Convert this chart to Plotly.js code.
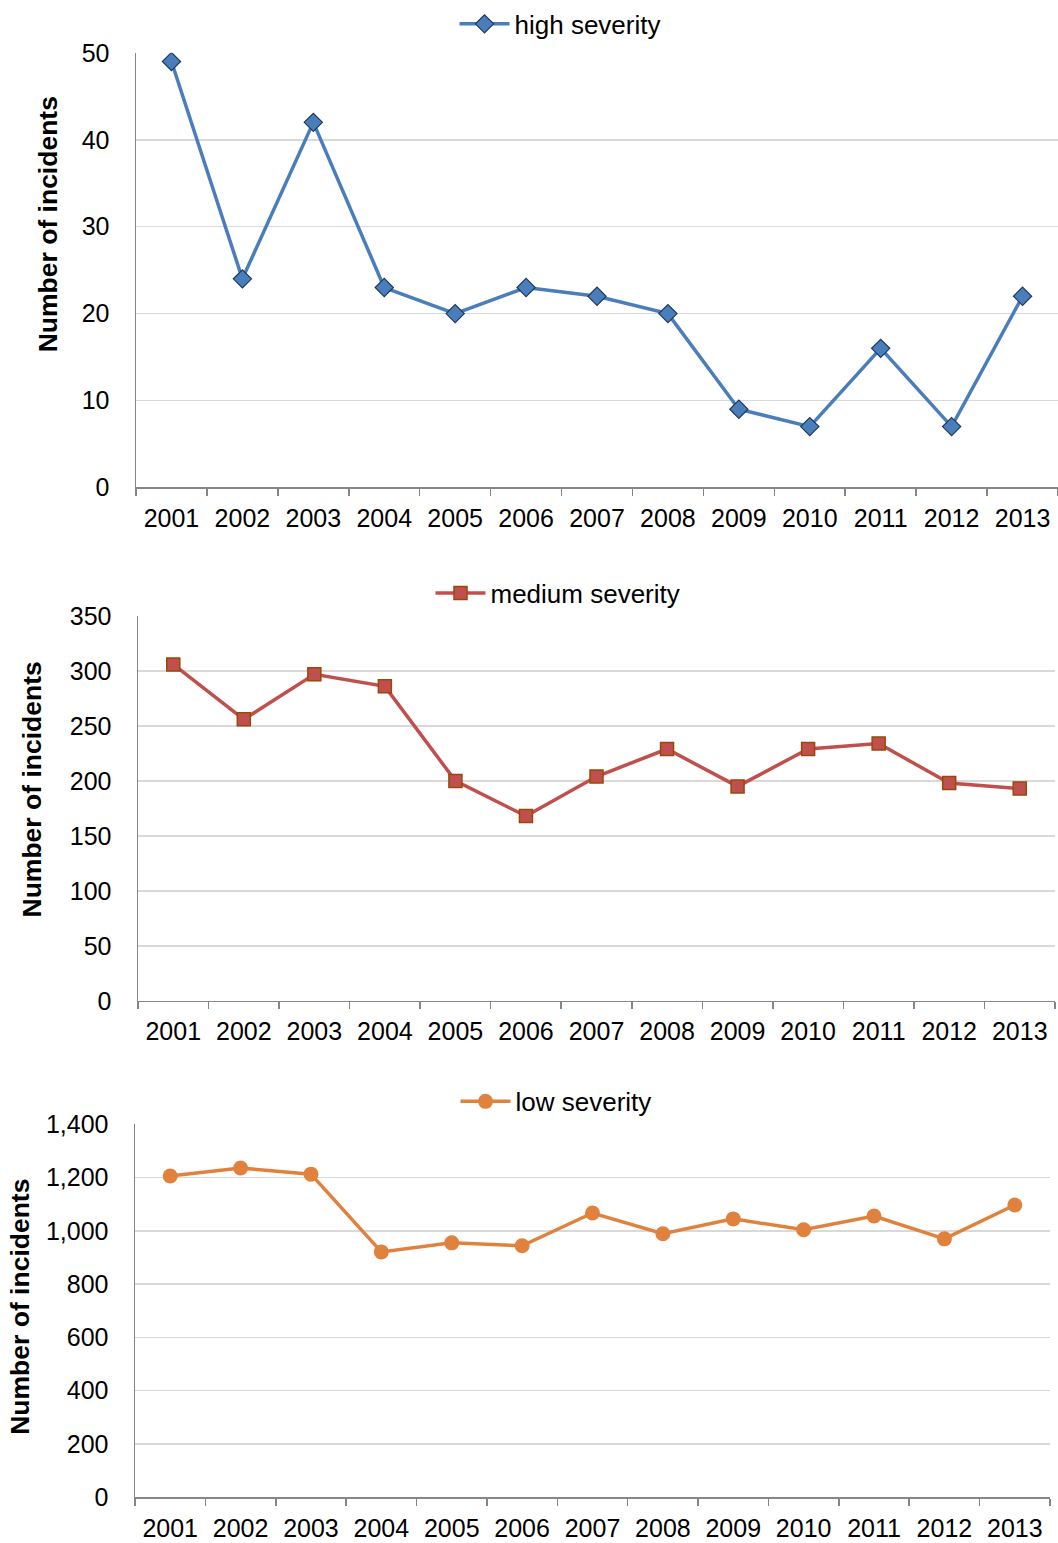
<!DOCTYPE html>
<html>
<head>
<meta charset="utf-8">
<script src="https://cdn.plot.ly/plotly-3.0.1.min.js"></script>
<style>html,body{margin:0;padding:0;background:#fff;}#chart{width:1058px;height:1543px;}</style>
</head>
<body>
<div id="chart"></div>
<script>
const years = ["2001","2002","2003","2004","2005","2006","2007","2008","2009","2010","2011","2012","2013"];
const highSeverity = [49, 24, 42, 23, 20, 23, 22, 20, 9, 7, 16, 7, 22];
const mediumSeverity = [306, 256, 297, 286, 200, 168, 204, 229, 195, 229, 234, 198, 193];
const lowSeverity = [1206, 1236, 1213, 921, 955, 944, 1067, 989, 1045, 1004, 1056, 970, 1097];
const seriesNames = ["high severity", "medium severity", "low severity"];
const yTitle = "Number of incidents";

const FONT = "Liberation Sans, Arial, sans-serif";
const W = 1058, H = 1543;
const px = v => v / W;
const py = v => 1 - v / H;

const traces = [
  {x: years, y: highSeverity, name: seriesNames[0], type: 'scatter', mode: 'lines+markers',
   xaxis: 'x', yaxis: 'y', legend: 'legend',
   line: {color: '#4a7ebb', width: 3.5},
   marker: {symbol: 'diamond', size: 14, color: '#4a7ebb', line: {color: '#1f3a5f', width: 1.2}}},
  {x: years, y: mediumSeverity, name: seriesNames[1], type: 'scatter', mode: 'lines+markers',
   xaxis: 'x2', yaxis: 'y2', legend: 'legend2',
   line: {color: '#c0504d', width: 3.5},
   marker: {symbol: 'square', size: 13, color: '#c0504d', line: {color: '#984807', width: 1.5}}},
  {x: years, y: lowSeverity, name: seriesNames[2], type: 'scatter', mode: 'lines+markers',
   xaxis: 'x3', yaxis: 'y3', legend: 'legend3',
   line: {color: '#e0823d', width: 3.5},
   marker: {symbol: 'circle', size: 15, color: '#e0823d', line: {width: 0}}}
];

function xAxis(left, right, anchor) {
  return {
    type: 'category', domain: [px(left), px(right)], anchor: anchor,
    range: [-0.5, years.length - 0.5], autorange: false,
    showgrid: false, showline: true, linecolor: '#868686', linewidth: 1.5,
    ticks: 'outside', tickson: 'boundaries', ticklen: 7, tickcolor: '#868686', tickwidth: 1.5,
    tickfont: {family: FONT, size: 25, color: '#000'}, ticklabelstandoff: 8,
    fixedrange: true
  };
}
function yAxis(top, bottom, range, dtick, anchor, fmt) {
  return {
    domain: [py(bottom), py(top)], anchor: anchor, range: range, dtick: dtick,
    showgrid: true, gridcolor: '#d9d9d9', gridwidth: 1.5,
    showline: true, linecolor: '#868686', linewidth: 1.5,
    zeroline: false, ticks: '', tickformat: fmt,
    tickfont: {family: FONT, size: 25, color: '#000'}, ticklabelstandoff: 20,
    fixedrange: true
  };
}
const legendBase = (x, y) => ({
  x: x, y: y, xanchor: 'center', yanchor: 'middle', orientation: 'h',
  font: {family: FONT, size: 26, color: '#000'}, bgcolor: 'rgba(0,0,0,0)', itemwidth: 50
});
const yTitleAnn = (cx, cy) => ({
  text: yTitle, textangle: -90, xref: 'paper', yref: 'paper', x: px(cx), y: py(cy),
  xanchor: 'center', yanchor: 'middle', showarrow: false,
  font: {family: FONT, size: 26.5, color: '#000', weight: 'bold'}
});

const layout = {
  width: W, height: H, margin: {l: 0, r: 0, t: 0, b: 0},
  paper_bgcolor: '#fff', plot_bgcolor: '#fff',
  font: {family: FONT, color: '#000'},
  xaxis: xAxis(136, 1058, 'y'),
  yaxis: yAxis(48, 484, [0, 50], 10, 'x', ''),
  xaxis2: xAxis(138, 1055, 'y2'),
  yaxis2: yAxis(613, 999, [0, 350], 50, 'x2', ''),
  xaxis3: xAxis(135, 1050, 'y3'),
  yaxis3: yAxis(1123, 1497, [0, 1400], 200, 'x3', ',d'),
  legend: legendBase(px(560), py(19)),
  legend2: legendBase(px(558), py(590)),
  legend3: legendBase(px(556), py(1100)),
  annotations: [yTitleAnn(48, 220), yTitleAnn(32, 787), yTitleAnn(20, 1306)],
  showlegend: true
};

Plotly.newPlot('chart', traces, layout, {displayModeBar: false, staticPlot: true});
</script>
</body>
</html>
